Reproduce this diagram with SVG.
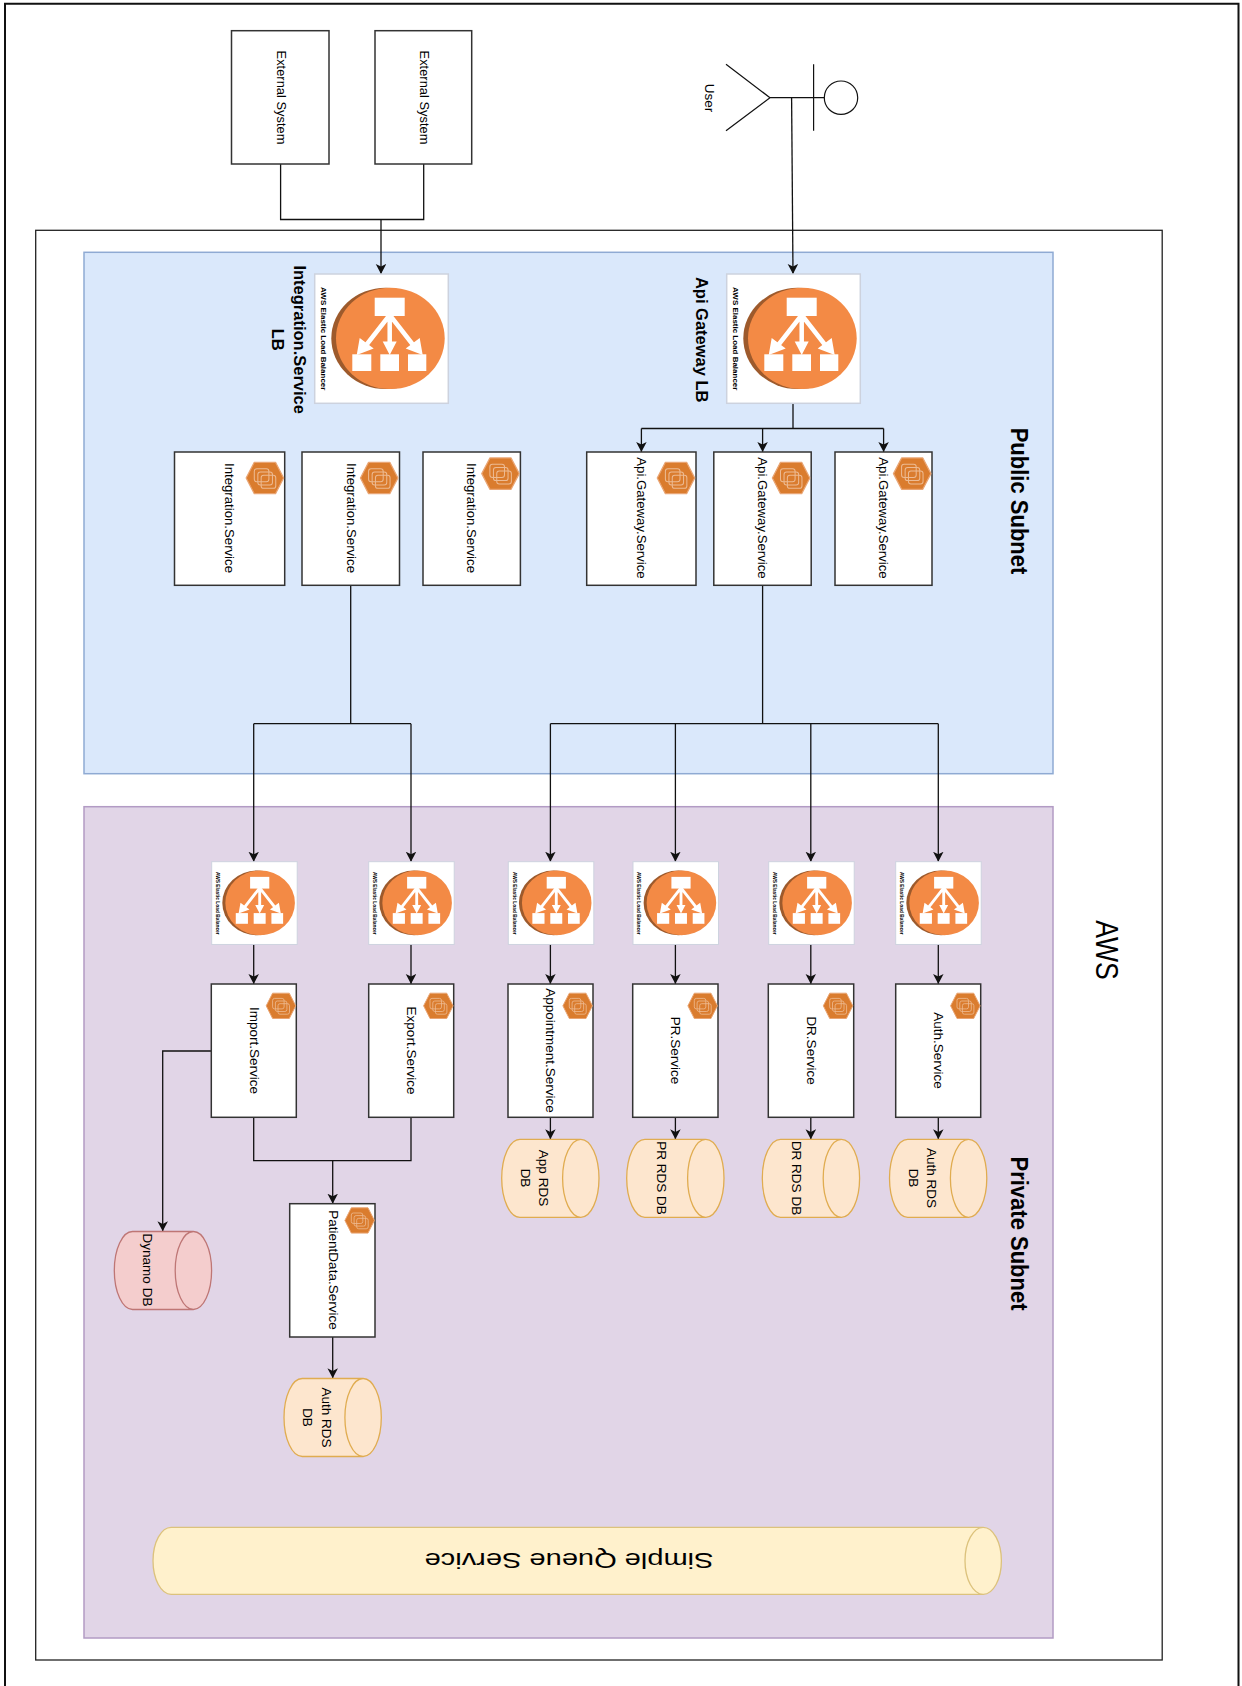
<svg xmlns="http://www.w3.org/2000/svg" width="1242" height="1686" viewBox="0 0 1242 1686">
<style>
text{font-family:"Liberation Sans",Arial,sans-serif;fill:#000;text-anchor:middle;font-size:13.5px}
.b{font-weight:bold}
.s{font-size:13.2px}
.box{fill:#fff;stroke:#333;stroke-width:1.5}
.line{fill:none;stroke:#111;stroke-width:1.3}
.arr{marker-end:url(#ah)}
.orange{fill:#FDE6CE;stroke:#E0AC50;stroke-width:1.3}
.red{fill:#F4CDCD;stroke:#BE7675;stroke-width:1.3}
.lbt{font-weight:bold;font-size:8px}
.lbs{font-weight:bold;font-size:4.85px}
</style>
<defs>
<marker id="ah" markerUnits="userSpaceOnUse" markerWidth="11" markerHeight="11" refX="10" refY="5.25" orient="auto"><path d="M10,5.25 L0,0 L2.6,5.25 L0,10.5 Z" fill="#111"/></marker>
<g id="lb">
<rect x="0" y="0" width="133.6" height="129.3" fill="#fff" stroke="#CDD2DE" stroke-width="1.5"/>
<ellipse cx="71" cy="64.35" rx="54.4" ry="50.65" fill="#9D5A2C"/>
<ellipse cx="75.65" cy="64.35" rx="54.35" ry="50.65" fill="#F38A45"/>
<g fill="#fff">
<rect x="60" y="23.7" width="30" height="18.3"/>
<rect x="37.6" y="80.3" width="19" height="16.7"/>
<rect x="65.6" y="80.3" width="18.7" height="16.7"/>
<rect x="93.3" y="80.3" width="18.3" height="16.7"/>
<path d="M75 41 L50 73 M75 41 V72 M75 41 L100 73" fill="none" stroke="#fff" stroke-width="4.5"/>
<path d="M68 67.5 H82 L75 81 Z M42 81 L45 64 L59 74.5 Z M108 81 L105 64 L91 74.5 Z"/>
</g>
</g>
<g id="hex">
<path d="M.6 13.15 L7 .5 H23.7 L30.1 13.15 L23.7 25.8 H7 Z" fill="#DA7C2E" stroke="#E9A574" stroke-width="1" stroke-linejoin="round"/>
<g fill="none" stroke="#EDBB93" stroke-width=".8">
<rect x="7" y="5.7" width="11.5" height="10.5" rx="2"/>
<rect x="9.8" y="8.3" width="11.5" height="10.5" rx="2"/>
<rect x="12.4" y="11" width="11.5" height="10.5" rx="2"/>
</g>
</g>
<path id="db" d="M18.2 0 H79.1 A18.2 39 0 0 1 79.1 78 H18.2 A18.2 39 0 0 1 18.2 0 Z M79.1 78 A18.2 39 0 0 1 79.1 0"/>
</defs>

<path id="frame" d="M5 1690 V3.7 H1238.5 V1690" fill="#fff" stroke="#111" stroke-width="2"/>
<rect id="aws" x="35.7" y="230.3" width="1126.5" height="1429.7" fill="#fff" stroke="#222" stroke-width="1.3"/>
<rect id="public-subnet" x="84" y="252.3" width="969" height="521.4" fill="#DAE8FB" stroke="#8FAAD3" stroke-width="1.5"/>
<rect id="private-subnet" x="84" y="806.7" width="969" height="831.3" fill="#E1D5E7" stroke="#B29BC4" stroke-width="1.5"/>
<text transform="translate(1107,950) scale(1.18,1) rotate(90)" dy=".35em" style="font-size:26.6px">AWS</text>
<text class="b" transform="translate(1019.5,501) scale(1.12,1) rotate(90)" dy=".35em" style="font-size:22px">Public Subnet</text>
<text class="b" transform="translate(1019.5,1233.5) scale(1.12,1) rotate(90)" dy=".35em" style="font-size:22px">Private Subnet</text>

<g id="connectors">
<path class="line" d="M280.6 164 V219.5 H423.7 V164"/>
<path class="line arr" d="M381 219.5 V274"/>
<path class="line arr" d="M791.6 97.7 L793 274"/>
<path class="line" d="M793 403.3 V428.5 H641.4 M762.6 428.5 H883.6"/>
<path class="line arr" d="M641.4 428.5 V452"/>
<path class="line arr" d="M762.6 428.5 V452"/>
<path class="line arr" d="M883.6 428.5 V452"/>
<path class="line" d="M350.7 585.3 V723.7 M253.7 723.7 H411"/>
<path class="line arr" d="M253.7 723.7 V861.7"/>
<path class="line arr" d="M411 723.7 V861.7"/>
<path class="line" d="M762.6 585.3 V723.7 M550.4 723.7 H938.3"/>
<path class="line arr" d="M550.4 723.7 V861.7"/>
<path class="line arr" d="M675.4 723.7 V861.7"/>
<path class="line arr" d="M810.8 723.7 V861.7"/>
<path class="line arr" d="M938.3 723.7 V861.7"/>
<path class="line arr" d="M253.7 944.3 V984"/>
<path class="line arr" d="M411 944.3 V984"/>
<path class="line arr" d="M550.4 944.3 V984"/>
<path class="line arr" d="M675.4 944.3 V984"/>
<path class="line arr" d="M810.8 944.3 V984"/>
<path class="line arr" d="M938.3 944.3 V984"/>
<path class="line arr" d="M550.4 1117.3 V1139.3"/>
<path class="line arr" d="M675.4 1117.3 V1139.3"/>
<path class="line arr" d="M810.8 1117.3 V1139.3"/>
<path class="line arr" d="M938.3 1117.3 V1139.3"/>
<path class="line" d="M253.7 1117.3 V1160.7 H411 V1117.3"/>
<path class="line arr" d="M332.7 1160.7 V1203.7"/>
<path class="line arr" d="M332.7 1337 V1378.3"/>
<path class="line arr" d="M211.3 1051 H162.7 V1231.3"/>
</g>

<g id="external-1"><rect class="box" x="231.5" y="30.7" width="97.5" height="133.3"/><text transform="translate(281.3,97.5) rotate(90)" dy=".35em" style="font-size:12.9px">External System</text></g>
<g id="external-2"><rect class="box" x="375" y="30.7" width="96.7" height="133.3"/><text transform="translate(424.4,97.5) rotate(90)" dy=".35em" style="font-size:12.9px">External System</text></g>
<g id="user">
<g fill="none" stroke="#111" stroke-width="1.2">
<circle cx="841" cy="97.7" r="16.7"/>
<path d="M824.3 97.7 H770 M813.6 64.3 V130.7 M726 64.3 L770 97.7 L726 130.7"/>
</g>
<text transform="translate(709.8,98) rotate(90)" dy=".35em">User</text>
</g>

<g id="integration-lb"><use href="#lb" transform="translate(314.7,274)"/><text class="lbt" transform="translate(323.5,338.7) scale(.85,1) rotate(90)" dy=".35em">AWS Elastic Load Balancer</text>
<text class="b" transform="translate(299.8,339.7) rotate(90)" dy=".35em" style="font-size:16.5px">Integration.Service</text><text class="b" transform="translate(278,339.7) rotate(90)" dy=".35em" style="font-size:16.5px">LB</text></g>
<g id="api-lb"><use href="#lb" transform="translate(726.7,274)"/><text class="lbt" transform="translate(735.5,338.7) scale(.85,1) rotate(90)" dy=".35em">AWS Elastic Load Balancer</text>
<text class="b" transform="translate(701.7,339.7) rotate(90)" dy=".35em" style="font-size:16.5px">Api Gateway LB</text></g>

<g id="integration-1"><rect class="box" x="174.5" y="452" width="110.2" height="133.3"/><use href="#hex" transform="translate(245.4,461.7) scale(1.27,1.24)"/><text class="s" transform="translate(230,518) rotate(90)" dy=".35em">Integration.Service</text></g>
<g id="integration-2"><rect class="box" x="302" y="452" width="97.5" height="133.3"/><use href="#hex" transform="translate(359.7,461.7) scale(1.27,1.24)"/><text class="s" transform="translate(351.2,518) rotate(90)" dy=".35em">Integration.Service</text></g>
<g id="integration-3"><rect class="box" x="423" y="452" width="97.4" height="133.3"/><use href="#hex" transform="translate(481,457.3) scale(1.27,1.24)"/><text class="s" transform="translate(472,518) rotate(90)" dy=".35em">Integration.Service</text></g>
<g id="gateway-1"><rect class="box" x="586.7" y="452" width="109.3" height="133.3"/><use href="#hex" transform="translate(656.5,461.7) scale(1.27,1.24)"/><text class="s" transform="translate(641.8,518) rotate(90)" dy=".35em">Api.Gateway.Service</text></g>
<g id="gateway-2"><rect class="box" x="713.8" y="452" width="97.4" height="133.3"/><use href="#hex" transform="translate(771.6,461.7) scale(1.27,1.24)"/><text class="s" transform="translate(762.7,518) rotate(90)" dy=".35em">Api.Gateway.Service</text></g>
<g id="gateway-3"><rect class="box" x="835" y="452" width="97" height="133.3"/><use href="#hex" transform="translate(892.7,457.3) scale(1.27,1.24)"/><text class="s" transform="translate(883.5,518) rotate(90)" dy=".35em">Api.Gateway.Service</text></g>

<g id="lb-import"><use href="#lb" transform="translate(211.7,861.7) scale(.64)"/><text class="lbs" transform="translate(217.7,903.3) rotate(90)" dy=".35em">AWS Elastic Load Balancer</text></g>
<g id="lb-export"><use href="#lb" transform="translate(368.7,861.7) scale(.64)"/><text class="lbs" transform="translate(374.7,903.3) rotate(90)" dy=".35em">AWS Elastic Load Balancer</text></g>
<g id="lb-appointment"><use href="#lb" transform="translate(508.3,861.7) scale(.64)"/><text class="lbs" transform="translate(514.3,903.3) rotate(90)" dy=".35em">AWS Elastic Load Balancer</text></g>
<g id="lb-pr"><use href="#lb" transform="translate(633,861.7) scale(.64)"/><text class="lbs" transform="translate(639,903.3) rotate(90)" dy=".35em">AWS Elastic Load Balancer</text></g>
<g id="lb-dr"><use href="#lb" transform="translate(768.7,861.7) scale(.64)"/><text class="lbs" transform="translate(774.7,903.3) rotate(90)" dy=".35em">AWS Elastic Load Balancer</text></g>
<g id="lb-auth"><use href="#lb" transform="translate(895.7,861.7) scale(.64)"/><text class="lbs" transform="translate(901.7,903.3) rotate(90)" dy=".35em">AWS Elastic Load Balancer</text></g>

<g id="import-service"><rect class="box" x="211.3" y="984" width="85" height="133.3"/><use href="#hex" transform="translate(265.6,992.7)"/><text transform="translate(254.3,1050.5) rotate(90)" dy=".35em">Import.Service</text></g>
<g id="export-service"><rect class="box" x="368.7" y="984" width="85" height="133.3"/><use href="#hex" transform="translate(423,992.7)"/><text transform="translate(411.7,1050.5) rotate(90)" dy=".35em">Export.Service</text></g>
<g id="appointment-service"><rect class="box" x="508" y="984" width="85" height="133.3"/><use href="#hex" transform="translate(562.3,992.7)"/><text transform="translate(550.7,1050.5) rotate(90)" dy=".35em">Appointment.Service</text></g>
<g id="pr-service"><rect class="box" x="632.7" y="984" width="85.3" height="133.3"/><use href="#hex" transform="translate(687.3,992.7)"/><text transform="translate(676,1050.5) rotate(90)" dy=".35em">PR.Service</text></g>
<g id="dr-service"><rect class="box" x="768.3" y="984" width="85.4" height="133.3"/><use href="#hex" transform="translate(822.7,992.7)"/><text transform="translate(811.3,1050.5) rotate(90)" dy=".35em">DR.Service</text></g>
<g id="auth-service"><rect class="box" x="895.7" y="984" width="85" height="133.3"/><use href="#hex" transform="translate(950,992.7)"/><text transform="translate(939,1050.5) rotate(90)" dy=".35em">Auth.Service</text></g>
<g id="patientdata-service"><rect class="box" x="289.7" y="1203.7" width="85.3" height="133.3"/><use href="#hex" transform="translate(344.3,1207.3)"/><text transform="translate(333.3,1270) rotate(90)" dy=".35em">PatientData.Service</text></g>

<g id="app-db"><use href="#db" class="orange" transform="translate(501.7,1139.3)"/><text transform="translate(544,1178) rotate(90)" dy=".35em">App RDS</text><text transform="translate(525.7,1178) rotate(90)" dy=".35em">DB</text></g>
<g id="pr-db"><use href="#db" class="orange" transform="translate(626.7,1139.3)"/><text transform="translate(662,1178) rotate(90)" dy=".35em">PR RDS DB</text></g>
<g id="dr-db"><use href="#db" class="orange" transform="translate(762.3,1139.3)"/><text transform="translate(796.7,1178) rotate(90)" dy=".35em">DR RDS DB</text></g>
<g id="auth-db"><use href="#db" class="orange" transform="translate(889.5,1139.3)"/><text transform="translate(931.7,1178) rotate(90)" dy=".35em">Auth RDS</text><text transform="translate(913.7,1178) rotate(90)" dy=".35em">DB</text></g>
<g id="dynamo-db"><use href="#db" class="red" transform="translate(114.3,1231.5)"/><text transform="translate(147.7,1270) rotate(90)" dy=".35em">Dynamo DB</text></g>
<g id="patient-db"><use href="#db" class="orange" transform="translate(284,1378.5)"/><text transform="translate(326.3,1417.5) rotate(90)" dy=".35em">Auth RDS</text><text transform="translate(308,1417.5) rotate(90)" dy=".35em">DB</text></g>

<g id="sqs">
<path d="M171.2 1527.3 H983.2 A18.2 33.5 0 0 1 983.2 1594.3 H171.2 A18.2 33.5 0 0 1 171.2 1527.3 Z M983.2 1594.3 A18.2 33.5 0 0 1 983.2 1527.3" fill="#FFF1CC" stroke="#DCC27C" stroke-width="1.3"/>
<text transform="translate(569,1561) scale(1.285,1) rotate(180)" dy=".35em" style="font-size:22.6px">Simple Queue Service</text>
</g>
</svg>
